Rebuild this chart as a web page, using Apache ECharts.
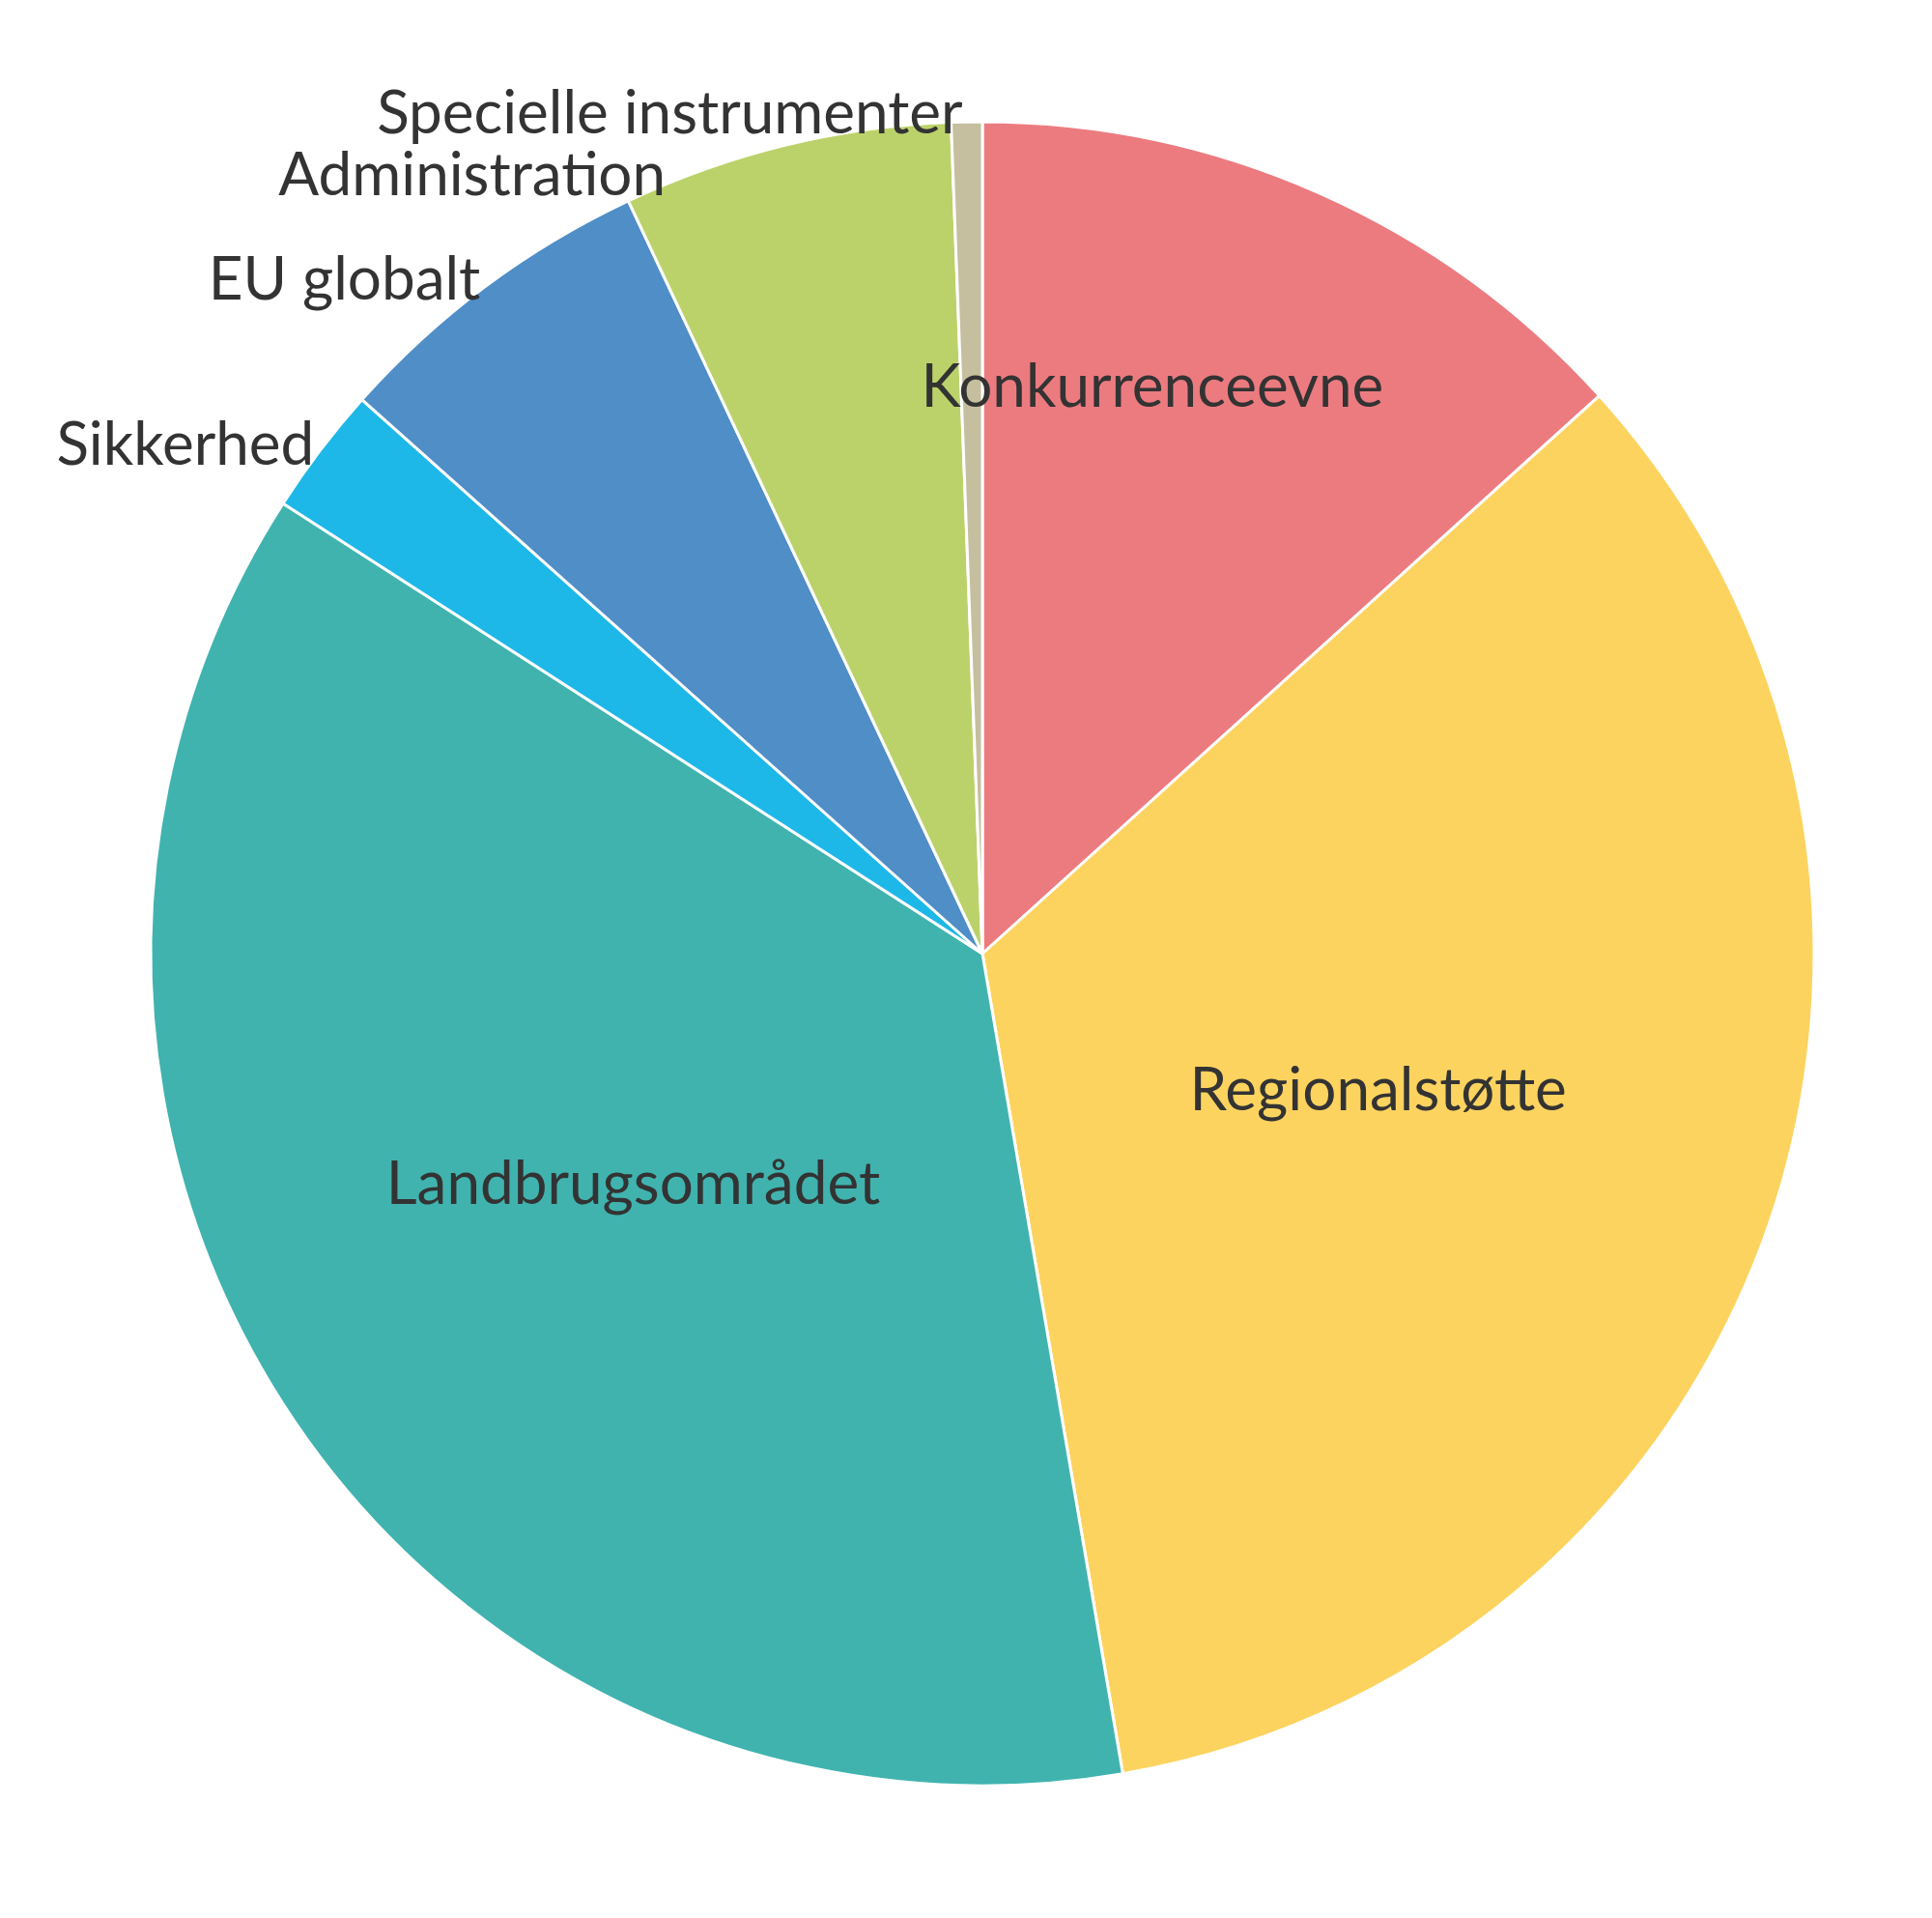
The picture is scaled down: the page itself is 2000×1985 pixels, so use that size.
<!DOCTYPE html>
<html><head><meta charset="utf-8">
<script src="https://cdn.jsdelivr.net/npm/echarts@6/dist/echarts.min.js"></script>
<style>html,body{margin:0;background:#fff}#c{width:2000px;height:1985px}</style>
</head><body><div id="c"></div>
<script>
const categories = ["Konkurrenceevne","Regionalstøtte","Landbrugsområdet","Sikkerhed","EU globalt","Administration","Specielle instrumenter"];
const values = [13.3, 34.0, 36.8, 2.5, 6.4, 6.4, 0.6];
const colors = ["#EC7B80","#FDD35F","#40B3AF","#1DB8E8","#4F8EC7","#BBD26A","#C5BFA0"];
const insideLabels = ["Konkurrenceevne","Regionalstøtte","Landbrugsområdet"];

const chart = echarts.init(document.getElementById("c"));
chart.setOption({
  animation: false,
  series: [{
    type: "pie",
    center: [1017, 987],
    radius: 861,
    startAngle: 90,
    clockwise: true,
    itemStyle: { borderColor: "#fff", borderWidth: 3 },
    label: { fontFamily: "Lato", fontSize: 62, color: "#333" },
    labelLine: { show: false, length: 8, length2: 0 },
    data: categories.map((name, i) => {
      const inside = insideLabels.includes(name);
      const item = {
        name, value: values[i], itemStyle: { color: colors[i] },
        label: inside ? { position: "inside", fontSize: 62 } : { position: "outside", distanceToLabelLine: 4 }
      };
      if (i === 0) item.label.offset = [0, -190];
      return item;
    })
  }]
});
</script></body></html>
